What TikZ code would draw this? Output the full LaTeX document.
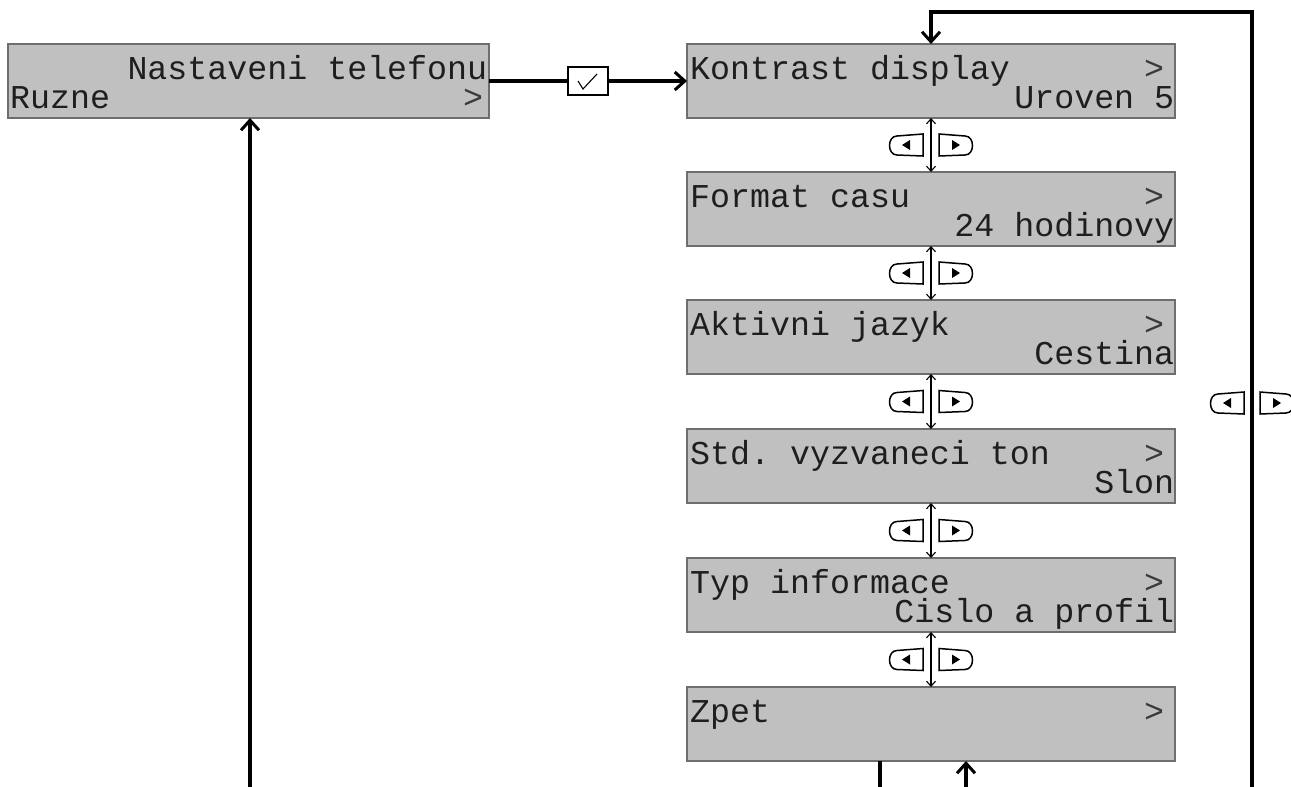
\documentclass[tikz,border=0pt]{standalone}
\usepackage{fontspec}
\newfontfamily\lcd{Liberation Mono}
\usetikzlibrary{arrows.meta,calc}
\definecolor{lcdbg}{HTML}{C0C0C0}
\definecolor{lcdframe}{HTML}{6E6E6E}
\definecolor{lcdink}{HTML}{1E1E1E}
\definecolor{lcdmark}{HTML}{3A3A3A}
\newcommand\lcdspacing{\spaceskip=19.98pt\relax\xspaceskip=19.98pt\relax}
\newcommand\gt{{\color{lcdmark}>}}
\tikzset{
  lcdbox/.style={draw=lcdframe, line width=1.5pt, fill=lcdbg, minimum width=488pt, minimum height=74pt, inner sep=0pt, outer sep=0pt},
  lcdtext/.style={font={\lcd\fontsize{33.3}{29}\selectfont\lineskiplimit=-60pt\lineskip=0pt\parindent=0pt\parskip=0pt}, execute at begin node=\lcdspacing, inner sep=0pt, text=lcdink, anchor=base west},
  flow/.style={line width=3.3pt, -{Straight Barb[length=10pt,width=18pt,line width=3pt]}},
  plain/.style={line width=3.3pt},
  nav/.style={line width=1.1pt, {Straight Barb[length=5pt,width=9pt,line width=1.1pt]}-{Straight Barb[length=5pt,width=9pt,line width=1.1pt]}},
  chkbox/.style={draw, line width=1.2pt, fill=white, minimum width=40pt, minimum height=28pt, inner sep=0pt},
  keys/.pic={
    \draw[line width=1.5pt, fill=white] (-8,-11) -- (-34,-9) .. controls (-44,-9) and (-44,10) .. (-34,10) -- (-8,11) -- cycle;
    \fill (-21,-5) -- (-21,5) -- (-29,0) -- cycle;
    \draw[line width=1.5pt, fill=white] (8,-11) -- (34,-9) .. controls (44,-9) and (44,10) .. (34,10) -- (8,11) -- cycle;
    \fill (21,-5) -- (21,5) -- (29,0) -- cycle;
  }
}
\begin{document}
\begin{tikzpicture}[x=1pt,y=-1pt]
\useasboundingbox (0,0) rectangle (1291,787);
% left box
\node[lcdbox, minimum width=481pt] (L) at (248.5,81) {};
\node[lcdtext, text width=477pt] (Lt) at (10,79) {\hfill Nastaveni telefonu\par Ruzne\hfill\gt\hspace*{4pt}};
% right boxes
\node[lcdbox] (K1) at (931,81) {};
\node[lcdbox] (K2) at (931,209) {};
\node[lcdbox] (K3) at (931,337) {};
\node[lcdbox] (K4) at (931,466) {};
\node[lcdbox] (K5) at (931,595) {};
\node[lcdbox] (K6) at (931,724) {};
\node[lcdtext, text width=484pt] (K1t) at (690,79) {Kontrast display\hfill\gt\hspace*{10pt}\par\hfill Uroven 5};
\node[lcdtext, text width=484pt] (K2t) at (690,207) {Format casu\hfill\gt\hspace*{10pt}\par\hfill 24 hodinovy};
\node[lcdtext, text width=484pt] (K3t) at (690,335) {Aktivni jazyk\hfill\gt\hspace*{10pt}\par\hfill Cestina};
\node[lcdtext, text width=484pt] (K4t) at (690,464) {Std. vyzvaneci ton\hfill\gt\hspace*{10pt}\par\hfill Slon};
\node[lcdtext, text width=484pt] (K5t) at (690,593) {Typ informace\hfill\gt\hspace*{10pt}\par\hfill Cislo a profil};
\node[lcdtext, text width=484pt] (K6t) at (690,722) {Zpet\hfill\gt\hspace*{10pt}};
% check connector
\node[chkbox] (chk) at (588,81) {};
\draw[line width=1.1pt] ([shift={(-10,0)}]chk.center) -- ([shift={(-5,8)}]chk.center) -- ([shift={(9,-7)}]chk.center);
\draw[plain] (L) -- (chk);
\draw[flow] (chk) -- (K1);
% navigation between entries
\draw[nav] (K1) -- (K2);
\draw[nav] (K2) -- (K3);
\draw[nav] (K3) -- (K4);
\draw[nav] (K4) -- (K5);
\draw[nav] (K5) -- (K6);
\pic at ($(K1.south)!.5!(K2.north)$) {keys};
\pic at ($(K2.south)!.5!(K3.north)$) {keys};
\pic at ($(K3.south)!.5!(K4.north)$) {keys};
\pic at ($(K4.south)!.5!(K5.north)$) {keys};
\pic at ($(K5.south)!.5!(K6.north)$) {keys};
% left return line
\coordinate (lb) at (250,787);
\draw[flow] (lb) -- (lb |- L.south);
% bottom lines of Zpet
\coordinate (zb1) at (880,787);
\coordinate (zb2) at (966,787);
\draw[plain] (zb1 |- K6.south) -- (zb1);
\draw[flow] (zb2) -- (zb2 |- K6.south);
% right loop
\coordinate (rb) at (1252,787);
\coordinate (rt) at (1252,12);
\draw[flow] (rb) -- (rt) -| (K1.north);
\pic at (1252,403) {keys};
\end{tikzpicture}
\end{document}
